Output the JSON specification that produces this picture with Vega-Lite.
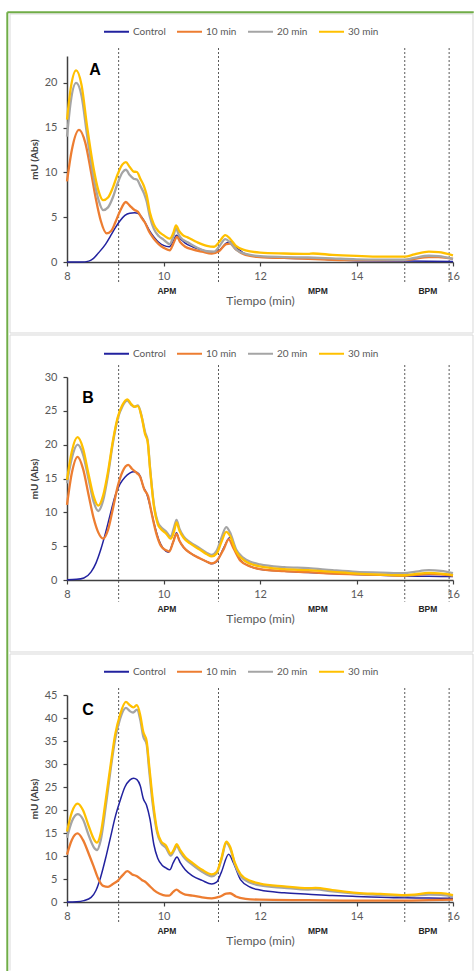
{
  "$schema": "https://vega.github.io/schema/vega-lite/v6.json",
  "background": "white",
  "padding": {"left": 6, "top": 11, "right": 0, "bottom": 0},
  "bounds": "flush",
  "spacing": 115,
  "config": {
    "view": {"stroke": null},
    "font": "Lato",
    "axis": {
      "grid": false,
      "domainColor": "#404040",
      "domainWidth": 1.5,
      "tickColor": "#404040",
      "tickWidth": 1.2,
      "tickSize": 4,
      "labelColor": "#595959",
      "labelFont": "Lato",
      "labelFontSize": 11,
      "labelFlush": false,
      "labelOverlap": false,
      "labelPadding": 4
    },
    "axisY": {"labelPadding": 6, "titleColor": "#404040", "titleFont": "Lato", "titleFontSize": 10, "titleFontWeight": "bold", "titlePadding": 5},
    "axisX": {"titleColor": "#595959", "titleFont": "Lato", "titleFontSize": 12, "titleFontWeight": "normal", "titlePadding": 14},
    "legend": {
      "symbolType": "stroke",
      "symbolSize": 625,
      "symbolStrokeWidth": 2,
      "labelColor": "#595959",
      "labelFont": "Lato",
      "labelFontSize": 10,
      "labelOffset": 3,
      "columnPadding": 7
    }
  },
  "resolve": {"scale": {"x": "independent", "y": "independent", "color": "independent"}, "legend": {"color": "independent"}},
  "datasets": {
    "A": [
      {"s":"Control","t":8.0,"v":0},{"s":"Control","t":8.3,"v":0},{"s":"Control","t":8.45,"v":0.1},{"s":"Control","t":8.55,"v":0.4},{"s":"Control","t":8.65,"v":1.0},{"s":"Control","t":8.8,"v":2.0},{"s":"Control","t":8.9,"v":2.9},{"s":"Control","t":9.0,"v":3.8},{"s":"Control","t":9.1,"v":4.6},{"s":"Control","t":9.2,"v":5.2},{"s":"Control","t":9.3,"v":5.45},{"s":"Control","t":9.4,"v":5.5},{"s":"Control","t":9.48,"v":5.4},{"s":"Control","t":9.55,"v":5.0},{"s":"Control","t":9.62,"v":4.4},{"s":"Control","t":9.7,"v":3.6},{"s":"Control","t":9.8,"v":2.8},{"s":"Control","t":9.9,"v":2.2},{"s":"Control","t":10.0,"v":1.85},{"s":"Control","t":10.12,"v":1.7},{"s":"Control","t":10.2,"v":2.3},{"s":"Control","t":10.27,"v":3.0},{"s":"Control","t":10.35,"v":2.6},{"s":"Control","t":10.45,"v":2.1},{"s":"Control","t":10.6,"v":1.7},{"s":"Control","t":10.8,"v":1.35},{"s":"Control","t":11.0,"v":1.1},{"s":"Control","t":11.15,"v":1.3},{"s":"Control","t":11.3,"v":2.1},{"s":"Control","t":11.4,"v":2.3},{"s":"Control","t":11.5,"v":1.7},{"s":"Control","t":11.7,"v":0.9},{"s":"Control","t":12.0,"v":0.55},{"s":"Control","t":12.5,"v":0.42},{"s":"Control","t":13.0,"v":0.38},{"s":"Control","t":13.1,"v":0.4},{"s":"Control","t":13.5,"v":0.25},{"s":"Control","t":14.0,"v":0.15},{"s":"Control","t":15.0,"v":0.1},{"s":"Control","t":16.0,"v":0.05},
      {"s":"10 min","t":8.0,"v":9.0},{"s":"10 min","t":8.1,"v":12.5},{"s":"10 min","t":8.25,"v":14.75},{"s":"10 min","t":8.38,"v":13.3},{"s":"10 min","t":8.5,"v":10.0},{"s":"10 min","t":8.6,"v":7.0},{"s":"10 min","t":8.7,"v":4.6},{"s":"10 min","t":8.82,"v":3.2},{"s":"10 min","t":8.92,"v":3.5},{"s":"10 min","t":9.0,"v":4.4},{"s":"10 min","t":9.1,"v":5.7},{"s":"10 min","t":9.22,"v":6.7},{"s":"10 min","t":9.3,"v":6.3},{"s":"10 min","t":9.4,"v":5.8},{"s":"10 min","t":9.47,"v":5.6},{"s":"10 min","t":9.55,"v":4.9},{"s":"10 min","t":9.62,"v":4.35},{"s":"10 min","t":9.7,"v":3.4},{"s":"10 min","t":9.8,"v":2.6},{"s":"10 min","t":9.9,"v":2.0},{"s":"10 min","t":10.0,"v":1.6},{"s":"10 min","t":10.13,"v":1.3},{"s":"10 min","t":10.2,"v":2.0},{"s":"10 min","t":10.28,"v":2.8},{"s":"10 min","t":10.35,"v":2.2},{"s":"10 min","t":10.45,"v":1.7},{"s":"10 min","t":10.6,"v":1.4},{"s":"10 min","t":10.8,"v":1.15},{"s":"10 min","t":11.0,"v":0.95},{"s":"10 min","t":11.15,"v":1.2},{"s":"10 min","t":11.3,"v":2.0},{"s":"10 min","t":11.38,"v":2.05},{"s":"10 min","t":11.5,"v":1.4},{"s":"10 min","t":11.7,"v":0.8},{"s":"10 min","t":12.0,"v":0.55},{"s":"10 min","t":12.5,"v":0.45},{"s":"10 min","t":13.0,"v":0.35},{"s":"10 min","t":13.5,"v":0.25},{"s":"10 min","t":14.0,"v":0.2},{"s":"10 min","t":15.0,"v":0.2},{"s":"10 min","t":15.2,"v":0.35},{"s":"10 min","t":15.5,"v":0.55},{"s":"10 min","t":15.7,"v":0.55},{"s":"10 min","t":16.0,"v":0.35},
      {"s":"20 min","t":8.0,"v":14.0},{"s":"20 min","t":8.08,"v":18.0},{"s":"20 min","t":8.19,"v":20.0},{"s":"20 min","t":8.3,"v":18.6},{"s":"20 min","t":8.42,"v":14.0},{"s":"20 min","t":8.55,"v":9.5},{"s":"20 min","t":8.65,"v":7.0},{"s":"20 min","t":8.75,"v":5.8},{"s":"20 min","t":8.85,"v":6.1},{"s":"20 min","t":8.95,"v":7.2},{"s":"20 min","t":9.05,"v":8.8},{"s":"20 min","t":9.15,"v":10.0},{"s":"20 min","t":9.22,"v":10.3},{"s":"20 min","t":9.3,"v":9.7},{"s":"20 min","t":9.38,"v":9.3},{"s":"20 min","t":9.45,"v":9.2},{"s":"20 min","t":9.52,"v":8.5},{"s":"20 min","t":9.6,"v":7.6},{"s":"20 min","t":9.65,"v":6.8},{"s":"20 min","t":9.72,"v":5.0},{"s":"20 min","t":9.8,"v":3.7},{"s":"20 min","t":9.9,"v":2.9},{"s":"20 min","t":10.0,"v":2.5},{"s":"20 min","t":10.13,"v":2.0},{"s":"20 min","t":10.2,"v":2.8},{"s":"20 min","t":10.26,"v":3.75},{"s":"20 min","t":10.32,"v":3.0},{"s":"20 min","t":10.4,"v":2.5},{"s":"20 min","t":10.5,"v":2.2},{"s":"20 min","t":10.7,"v":1.6},{"s":"20 min","t":10.9,"v":1.2},{"s":"20 min","t":11.05,"v":1.15},{"s":"20 min","t":11.15,"v":1.7},{"s":"20 min","t":11.28,"v":2.55},{"s":"20 min","t":11.38,"v":2.2},{"s":"20 min","t":11.5,"v":1.4},{"s":"20 min","t":11.7,"v":0.9},{"s":"20 min","t":12.0,"v":0.65},{"s":"20 min","t":12.5,"v":0.55},{"s":"20 min","t":13.0,"v":0.5},{"s":"20 min","t":13.5,"v":0.4},{"s":"20 min","t":14.0,"v":0.3},{"s":"20 min","t":14.5,"v":0.27},{"s":"20 min","t":15.0,"v":0.25},{"s":"20 min","t":15.2,"v":0.45},{"s":"20 min","t":15.5,"v":0.7},{"s":"20 min","t":15.7,"v":0.65},{"s":"20 min","t":16.0,"v":0.35},
      {"s":"30 min","t":8.0,"v":15.9},{"s":"30 min","t":8.08,"v":19.5},{"s":"30 min","t":8.19,"v":21.4},{"s":"30 min","t":8.3,"v":19.8},{"s":"30 min","t":8.42,"v":15.0},{"s":"30 min","t":8.55,"v":10.5},{"s":"30 min","t":8.65,"v":8.0},{"s":"30 min","t":8.75,"v":6.9},{"s":"30 min","t":8.85,"v":7.2},{"s":"30 min","t":8.95,"v":8.3},{"s":"30 min","t":9.05,"v":9.8},{"s":"30 min","t":9.15,"v":10.9},{"s":"30 min","t":9.22,"v":11.15},{"s":"30 min","t":9.3,"v":10.6},{"s":"30 min","t":9.38,"v":10.1},{"s":"30 min","t":9.45,"v":10.05},{"s":"30 min","t":9.52,"v":9.3},{"s":"30 min","t":9.6,"v":8.4},{"s":"30 min","t":9.65,"v":7.5},{"s":"30 min","t":9.72,"v":5.5},{"s":"30 min","t":9.8,"v":4.2},{"s":"30 min","t":9.9,"v":3.4},{"s":"30 min","t":10.0,"v":3.0},{"s":"30 min","t":10.13,"v":2.6},{"s":"30 min","t":10.2,"v":3.2},{"s":"30 min","t":10.26,"v":4.1},{"s":"30 min","t":10.32,"v":3.5},{"s":"30 min","t":10.4,"v":3.0},{"s":"30 min","t":10.5,"v":2.75},{"s":"30 min","t":10.7,"v":2.2},{"s":"30 min","t":10.9,"v":1.8},{"s":"30 min","t":11.05,"v":1.7},{"s":"30 min","t":11.15,"v":2.2},{"s":"30 min","t":11.28,"v":3.0},{"s":"30 min","t":11.38,"v":2.6},{"s":"30 min","t":11.5,"v":1.8},{"s":"30 min","t":11.7,"v":1.3},{"s":"30 min","t":12.0,"v":1.05},{"s":"30 min","t":12.5,"v":0.95},{"s":"30 min","t":13.0,"v":0.9},{"s":"30 min","t":13.1,"v":0.95},{"s":"30 min","t":13.5,"v":0.8},{"s":"30 min","t":14.0,"v":0.68},{"s":"30 min","t":14.5,"v":0.6},{"s":"30 min","t":15.0,"v":0.6},{"s":"30 min","t":15.2,"v":0.85},{"s":"30 min","t":15.5,"v":1.15},{"s":"30 min","t":15.7,"v":1.1},{"s":"30 min","t":16.0,"v":0.75}
    ],
    "B": [
      {"s":"Control","t":8.0,"v":0.05},{"s":"Control","t":8.2,"v":0.1},{"s":"Control","t":8.35,"v":0.3},{"s":"Control","t":8.5,"v":1.2},{"s":"Control","t":8.6,"v":2.5},{"s":"Control","t":8.7,"v":4.5},{"s":"Control","t":8.8,"v":7.0},{"s":"Control","t":8.9,"v":9.8},{"s":"Control","t":9.0,"v":12.5},{"s":"Control","t":9.1,"v":14.2},{"s":"Control","t":9.2,"v":15.2},{"s":"Control","t":9.3,"v":15.8},{"s":"Control","t":9.38,"v":16.0},{"s":"Control","t":9.45,"v":15.9},{"s":"Control","t":9.52,"v":15.3},{"s":"Control","t":9.58,"v":13.8},{"s":"Control","t":9.65,"v":12.8},{"s":"Control","t":9.72,"v":11.0},{"s":"Control","t":9.8,"v":8.5},{"s":"Control","t":9.9,"v":6.0},{"s":"Control","t":10.0,"v":4.6},{"s":"Control","t":10.1,"v":4.1},{"s":"Control","t":10.2,"v":5.6},{"s":"Control","t":10.27,"v":7.0},{"s":"Control","t":10.33,"v":5.8},{"s":"Control","t":10.42,"v":4.8},{"s":"Control","t":10.55,"v":4.0},{"s":"Control","t":10.75,"v":3.2},{"s":"Control","t":10.9,"v":2.7},{"s":"Control","t":11.0,"v":2.4},{"s":"Control","t":11.1,"v":2.7},{"s":"Control","t":11.25,"v":4.8},{"s":"Control","t":11.38,"v":6.3},{"s":"Control","t":11.48,"v":4.8},{"s":"Control","t":11.6,"v":2.9},{"s":"Control","t":11.8,"v":2.0},{"s":"Control","t":12.0,"v":1.6},{"s":"Control","t":12.5,"v":1.3},{"s":"Control","t":13.0,"v":1.1},{"s":"Control","t":13.5,"v":0.95},{"s":"Control","t":14.0,"v":0.8},{"s":"Control","t":14.5,"v":0.7},{"s":"Control","t":15.0,"v":0.6},{"s":"Control","t":15.5,"v":0.55},{"s":"Control","t":16.0,"v":0.5},
      {"s":"10 min","t":8.0,"v":11.1},{"s":"10 min","t":8.1,"v":15.8},{"s":"10 min","t":8.22,"v":18.2},{"s":"10 min","t":8.33,"v":16.5},{"s":"10 min","t":8.45,"v":12.5},{"s":"10 min","t":8.55,"v":9.2},{"s":"10 min","t":8.65,"v":7.0},{"s":"10 min","t":8.75,"v":6.1},{"s":"10 min","t":8.85,"v":7.4},{"s":"10 min","t":8.95,"v":10.5},{"s":"10 min","t":9.05,"v":13.8},{"s":"10 min","t":9.15,"v":16.0},{"s":"10 min","t":9.27,"v":17.0},{"s":"10 min","t":9.35,"v":16.4},{"s":"10 min","t":9.45,"v":15.8},{"s":"10 min","t":9.52,"v":15.2},{"s":"10 min","t":9.6,"v":13.4},{"s":"10 min","t":9.68,"v":12.4},{"s":"10 min","t":9.75,"v":10.0},{"s":"10 min","t":9.85,"v":6.9},{"s":"10 min","t":9.95,"v":5.0},{"s":"10 min","t":10.05,"v":4.4},{"s":"10 min","t":10.12,"v":4.2},{"s":"10 min","t":10.2,"v":5.6},{"s":"10 min","t":10.27,"v":6.8},{"s":"10 min","t":10.33,"v":5.8},{"s":"10 min","t":10.42,"v":4.8},{"s":"10 min","t":10.55,"v":4.0},{"s":"10 min","t":10.75,"v":3.2},{"s":"10 min","t":10.9,"v":2.7},{"s":"10 min","t":11.0,"v":2.45},{"s":"10 min","t":11.1,"v":2.8},{"s":"10 min","t":11.25,"v":4.6},{"s":"10 min","t":11.35,"v":6.0},{"s":"10 min","t":11.45,"v":4.7},{"s":"10 min","t":11.6,"v":2.8},{"s":"10 min","t":11.8,"v":2.0},{"s":"10 min","t":12.0,"v":1.6},{"s":"10 min","t":12.5,"v":1.3},{"s":"10 min","t":13.0,"v":1.15},{"s":"10 min","t":13.5,"v":0.95},{"s":"10 min","t":14.0,"v":0.85},{"s":"10 min","t":14.5,"v":0.75},{"s":"10 min","t":15.0,"v":0.65},{"s":"10 min","t":15.2,"v":0.75},{"s":"10 min","t":15.5,"v":0.9},{"s":"10 min","t":15.75,"v":0.85},{"s":"10 min","t":16.0,"v":0.65},
      {"s":"20 min","t":8.0,"v":14.3},{"s":"20 min","t":8.1,"v":18.0},{"s":"20 min","t":8.22,"v":20.0},{"s":"20 min","t":8.33,"v":18.6},{"s":"20 min","t":8.45,"v":14.8},{"s":"20 min","t":8.55,"v":11.6},{"s":"20 min","t":8.65,"v":10.2},{"s":"20 min","t":8.75,"v":11.8},{"s":"20 min","t":8.85,"v":15.5},{"s":"20 min","t":8.95,"v":20.2},{"s":"20 min","t":9.05,"v":23.8},{"s":"20 min","t":9.15,"v":25.7},{"s":"20 min","t":9.25,"v":26.5},{"s":"20 min","t":9.33,"v":25.9},{"s":"20 min","t":9.4,"v":25.6},{"s":"20 min","t":9.47,"v":25.8},{"s":"20 min","t":9.55,"v":24.1},{"s":"20 min","t":9.62,"v":21.8},{"s":"20 min","t":9.67,"v":20.7},{"s":"20 min","t":9.72,"v":16.7},{"s":"20 min","t":9.8,"v":11.2},{"s":"20 min","t":9.88,"v":8.6},{"s":"20 min","t":9.95,"v":7.8},{"s":"20 min","t":10.05,"v":7.2},{"s":"20 min","t":10.15,"v":6.4},{"s":"20 min","t":10.22,"v":7.8},{"s":"20 min","t":10.27,"v":8.9},{"s":"20 min","t":10.33,"v":7.6},{"s":"20 min","t":10.42,"v":6.4},{"s":"20 min","t":10.55,"v":5.6},{"s":"20 min","t":10.75,"v":4.7},{"s":"20 min","t":10.9,"v":4.0},{"s":"20 min","t":11.0,"v":3.7},{"s":"20 min","t":11.1,"v":4.3},{"s":"20 min","t":11.2,"v":6.2},{"s":"20 min","t":11.3,"v":7.8},{"s":"20 min","t":11.38,"v":7.0},{"s":"20 min","t":11.5,"v":4.6},{"s":"20 min","t":11.65,"v":3.3},{"s":"20 min","t":11.8,"v":2.7},{"s":"20 min","t":12.0,"v":2.3},{"s":"20 min","t":12.5,"v":1.9},{"s":"20 min","t":13.0,"v":1.75},{"s":"20 min","t":13.5,"v":1.45},{"s":"20 min","t":14.0,"v":1.2},{"s":"20 min","t":14.5,"v":1.1},{"s":"20 min","t":15.0,"v":1.0},{"s":"20 min","t":15.2,"v":1.2},{"s":"20 min","t":15.5,"v":1.45},{"s":"20 min","t":15.75,"v":1.35},{"s":"20 min","t":16.0,"v":1.0},
      {"s":"30 min","t":8.0,"v":14.8},{"s":"30 min","t":8.1,"v":19.0},{"s":"30 min","t":8.22,"v":21.1},{"s":"30 min","t":8.33,"v":19.5},{"s":"30 min","t":8.45,"v":15.5},{"s":"30 min","t":8.55,"v":12.4},{"s":"30 min","t":8.65,"v":11.0},{"s":"30 min","t":8.75,"v":12.5},{"s":"30 min","t":8.85,"v":16.0},{"s":"30 min","t":8.95,"v":20.5},{"s":"30 min","t":9.05,"v":24.0},{"s":"30 min","t":9.15,"v":25.9},{"s":"30 min","t":9.25,"v":26.7},{"s":"30 min","t":9.33,"v":26.0},{"s":"30 min","t":9.4,"v":25.6},{"s":"30 min","t":9.47,"v":25.7},{"s":"30 min","t":9.55,"v":24.0},{"s":"30 min","t":9.62,"v":21.5},{"s":"30 min","t":9.67,"v":20.5},{"s":"30 min","t":9.72,"v":16.5},{"s":"30 min","t":9.8,"v":11.0},{"s":"30 min","t":9.88,"v":8.3},{"s":"30 min","t":9.95,"v":7.5},{"s":"30 min","t":10.05,"v":6.9},{"s":"30 min","t":10.15,"v":6.1},{"s":"30 min","t":10.22,"v":7.2},{"s":"30 min","t":10.27,"v":8.5},{"s":"30 min","t":10.33,"v":7.3},{"s":"30 min","t":10.42,"v":6.2},{"s":"30 min","t":10.55,"v":5.4},{"s":"30 min","t":10.75,"v":4.5},{"s":"30 min","t":10.9,"v":3.8},{"s":"30 min","t":11.0,"v":3.5},{"s":"30 min","t":11.1,"v":3.9},{"s":"30 min","t":11.2,"v":5.6},{"s":"30 min","t":11.3,"v":7.1},{"s":"30 min","t":11.38,"v":6.5},{"s":"30 min","t":11.5,"v":4.3},{"s":"30 min","t":11.65,"v":3.0},{"s":"30 min","t":11.8,"v":2.4},{"s":"30 min","t":12.0,"v":2.0},{"s":"30 min","t":12.5,"v":1.6},{"s":"30 min","t":13.0,"v":1.45},{"s":"30 min","t":13.5,"v":1.2},{"s":"30 min","t":14.0,"v":0.95},{"s":"30 min","t":14.5,"v":0.8},{"s":"30 min","t":15.0,"v":0.7},{"s":"30 min","t":15.2,"v":0.85},{"s":"30 min","t":15.5,"v":1.05},{"s":"30 min","t":15.75,"v":0.95},{"s":"30 min","t":16.0,"v":0.7}
    ],
    "C": [
      {"s":"Control","t":8.0,"v":0},{"s":"Control","t":8.2,"v":0.05},{"s":"Control","t":8.35,"v":0.3},{"s":"Control","t":8.5,"v":1.0},{"s":"Control","t":8.6,"v":2.5},{"s":"Control","t":8.7,"v":5.5},{"s":"Control","t":8.8,"v":9.5},{"s":"Control","t":8.9,"v":14.0},{"s":"Control","t":9.0,"v":18.5},{"s":"Control","t":9.1,"v":22.0},{"s":"Control","t":9.2,"v":25.0},{"s":"Control","t":9.3,"v":26.5},{"s":"Control","t":9.38,"v":26.9},{"s":"Control","t":9.45,"v":26.6},{"s":"Control","t":9.52,"v":25.2},{"s":"Control","t":9.58,"v":22.5},{"s":"Control","t":9.65,"v":21.0},{"s":"Control","t":9.72,"v":18.0},{"s":"Control","t":9.8,"v":12.5},{"s":"Control","t":9.88,"v":9.5},{"s":"Control","t":9.97,"v":8.0},{"s":"Control","t":10.05,"v":7.4},{"s":"Control","t":10.13,"v":7.0},{"s":"Control","t":10.2,"v":8.5},{"s":"Control","t":10.28,"v":9.8},{"s":"Control","t":10.35,"v":8.5},{"s":"Control","t":10.45,"v":7.0},{"s":"Control","t":10.6,"v":5.7},{"s":"Control","t":10.8,"v":4.7},{"s":"Control","t":11.0,"v":3.9},{"s":"Control","t":11.1,"v":4.3},{"s":"Control","t":11.2,"v":6.5},{"s":"Control","t":11.35,"v":10.4},{"s":"Control","t":11.45,"v":8.5},{"s":"Control","t":11.6,"v":4.8},{"s":"Control","t":11.8,"v":3.2},{"s":"Control","t":12.0,"v":2.6},{"s":"Control","t":12.5,"v":2.0},{"s":"Control","t":13.0,"v":1.7},{"s":"Control","t":13.5,"v":1.4},{"s":"Control","t":14.0,"v":1.2},{"s":"Control","t":14.5,"v":1.05},{"s":"Control","t":15.0,"v":0.9},{"s":"Control","t":15.5,"v":0.85},{"s":"Control","t":16.0,"v":0.8},
      {"s":"10 min","t":8.0,"v":10.3},{"s":"10 min","t":8.1,"v":13.5},{"s":"10 min","t":8.22,"v":14.9},{"s":"10 min","t":8.33,"v":13.5},{"s":"10 min","t":8.45,"v":10.5},{"s":"10 min","t":8.55,"v":7.8},{"s":"10 min","t":8.65,"v":5.0},{"s":"10 min","t":8.75,"v":3.5},{"s":"10 min","t":8.85,"v":3.3},{"s":"10 min","t":8.95,"v":3.9},{"s":"10 min","t":9.05,"v":4.6},{"s":"10 min","t":9.15,"v":5.8},{"s":"10 min","t":9.25,"v":6.7},{"s":"10 min","t":9.35,"v":6.0},{"s":"10 min","t":9.45,"v":5.6},{"s":"10 min","t":9.55,"v":4.8},{"s":"10 min","t":9.62,"v":4.4},{"s":"10 min","t":9.7,"v":3.6},{"s":"10 min","t":9.8,"v":2.6},{"s":"10 min","t":9.92,"v":1.8},{"s":"10 min","t":10.05,"v":1.4},{"s":"10 min","t":10.12,"v":1.4},{"s":"10 min","t":10.2,"v":2.2},{"s":"10 min","t":10.27,"v":2.7},{"s":"10 min","t":10.35,"v":2.1},{"s":"10 min","t":10.45,"v":1.6},{"s":"10 min","t":10.6,"v":1.4},{"s":"10 min","t":10.8,"v":1.0},{"s":"10 min","t":11.0,"v":0.8},{"s":"10 min","t":11.15,"v":1.1},{"s":"10 min","t":11.3,"v":1.8},{"s":"10 min","t":11.38,"v":1.9},{"s":"10 min","t":11.5,"v":1.2},{"s":"10 min","t":11.7,"v":0.7},{"s":"10 min","t":12.0,"v":0.5},{"s":"10 min","t":13.0,"v":0.4},{"s":"10 min","t":14.0,"v":0.3},{"s":"10 min","t":15.0,"v":0.3},{"s":"10 min","t":15.5,"v":0.4},{"s":"10 min","t":16.0,"v":0.5},
      {"s":"20 min","t":8.0,"v":14.0},{"s":"20 min","t":8.1,"v":17.5},{"s":"20 min","t":8.22,"v":19.1},{"s":"20 min","t":8.33,"v":18.0},{"s":"20 min","t":8.45,"v":14.5},{"s":"20 min","t":8.55,"v":12.0},{"s":"20 min","t":8.62,"v":11.3},{"s":"20 min","t":8.7,"v":13.5},{"s":"20 min","t":8.8,"v":20.5},{"s":"20 min","t":8.9,"v":28.5},{"s":"20 min","t":9.0,"v":35.5},{"s":"20 min","t":9.1,"v":39.8},{"s":"20 min","t":9.22,"v":42.2},{"s":"20 min","t":9.3,"v":41.5},{"s":"20 min","t":9.37,"v":41.2},{"s":"20 min","t":9.45,"v":41.8},{"s":"20 min","t":9.52,"v":39.5},{"s":"20 min","t":9.58,"v":36.0},{"s":"20 min","t":9.65,"v":34.3},{"s":"20 min","t":9.7,"v":29.0},{"s":"20 min","t":9.78,"v":21.0},{"s":"20 min","t":9.87,"v":15.0},{"s":"20 min","t":9.95,"v":12.8},{"s":"20 min","t":10.05,"v":11.8},{"s":"20 min","t":10.15,"v":10.1},{"s":"20 min","t":10.22,"v":11.2},{"s":"20 min","t":10.27,"v":12.2},{"s":"20 min","t":10.35,"v":10.8},{"s":"20 min","t":10.45,"v":9.4},{"s":"20 min","t":10.6,"v":8.1},{"s":"20 min","t":10.8,"v":6.6},{"s":"20 min","t":11.0,"v":5.6},{"s":"20 min","t":11.1,"v":6.2},{"s":"20 min","t":11.2,"v":9.2},{"s":"20 min","t":11.3,"v":12.8},{"s":"20 min","t":11.38,"v":11.7},{"s":"20 min","t":11.48,"v":8.2},{"s":"20 min","t":11.6,"v":5.6},{"s":"20 min","t":11.8,"v":4.2},{"s":"20 min","t":12.0,"v":3.6},{"s":"20 min","t":12.5,"v":3.1},{"s":"20 min","t":13.0,"v":2.7},{"s":"20 min","t":13.15,"v":2.75},{"s":"20 min","t":13.5,"v":2.3},{"s":"20 min","t":14.0,"v":1.8},{"s":"20 min","t":14.5,"v":1.5},{"s":"20 min","t":15.0,"v":1.3},{"s":"20 min","t":15.2,"v":1.4},{"s":"20 min","t":15.5,"v":1.6},{"s":"20 min","t":15.75,"v":1.55},{"s":"20 min","t":16.0,"v":1.2},
      {"s":"30 min","t":8.0,"v":15.3},{"s":"30 min","t":8.1,"v":19.5},{"s":"30 min","t":8.22,"v":21.4},{"s":"30 min","t":8.33,"v":20.0},{"s":"30 min","t":8.45,"v":16.5},{"s":"30 min","t":8.55,"v":13.8},{"s":"30 min","t":8.62,"v":12.9},{"s":"30 min","t":8.7,"v":15.0},{"s":"30 min","t":8.8,"v":22.0},{"s":"30 min","t":8.9,"v":29.5},{"s":"30 min","t":9.0,"v":36.5},{"s":"30 min","t":9.1,"v":40.7},{"s":"30 min","t":9.22,"v":43.5},{"s":"30 min","t":9.3,"v":42.8},{"s":"30 min","t":9.37,"v":42.3},{"s":"30 min","t":9.45,"v":42.8},{"s":"30 min","t":9.52,"v":40.5},{"s":"30 min","t":9.58,"v":37.0},{"s":"30 min","t":9.65,"v":35.0},{"s":"30 min","t":9.7,"v":30.0},{"s":"30 min","t":9.78,"v":22.0},{"s":"30 min","t":9.87,"v":15.5},{"s":"30 min","t":9.95,"v":13.2},{"s":"30 min","t":10.05,"v":12.3},{"s":"30 min","t":10.15,"v":10.5},{"s":"30 min","t":10.22,"v":11.5},{"s":"30 min","t":10.27,"v":12.6},{"s":"30 min","t":10.35,"v":11.2},{"s":"30 min","t":10.45,"v":9.8},{"s":"30 min","t":10.6,"v":8.5},{"s":"30 min","t":10.8,"v":7.0},{"s":"30 min","t":11.0,"v":6.0},{"s":"30 min","t":11.1,"v":6.5},{"s":"30 min","t":11.2,"v":9.5},{"s":"30 min","t":11.3,"v":13.1},{"s":"30 min","t":11.38,"v":12.0},{"s":"30 min","t":11.48,"v":8.5},{"s":"30 min","t":11.6,"v":6.0},{"s":"30 min","t":11.8,"v":4.6},{"s":"30 min","t":12.0,"v":4.0},{"s":"30 min","t":12.5,"v":3.4},{"s":"30 min","t":13.0,"v":3.0},{"s":"30 min","t":13.15,"v":3.05},{"s":"30 min","t":13.5,"v":2.6},{"s":"30 min","t":14.0,"v":2.0},{"s":"30 min","t":14.5,"v":1.75},{"s":"30 min","t":15.0,"v":1.5},{"s":"30 min","t":15.2,"v":1.6},{"s":"30 min","t":15.5,"v":2.0},{"s":"30 min","t":15.75,"v":1.95},{"s":"30 min","t":16.0,"v":1.5}
    ],
    "bounds": [{"t":9.07},{"t":11.14},{"t":15.0},{"t":15.92}],
    "regions": [{"label":"APM","t":10.07},{"label":"MPM","t":13.2},{"label":"BPM","t":15.48}]
  },
  "vconcat": [
    {
      "width": 386,
      "height": 206,
      "layer": [
        {"data": {"values": [{}]}, "mark": {"type": "rect", "fill": "transparent", "stroke": "#D9D9D9", "strokeWidth": 1},
         "encoding": {"x": {"datum": 6.8187, "axis": {"values": [8, 10, 12, 14, 16], "title": "Tiempo (min)"}}, "x2": {"datum": 16.4145}, "y": {"datum": 27.689, "axis": {"values": [0, 5, 10, 15, 20], "title": "mU (Abs)"}}, "y2": {"datum": -7.927}}},
        {"data": {"values": [{}]}, "mark": {"type": "rule", "color": "#70AD47", "strokeWidth": 2},
         "encoding": {"x": {"datum": 6.7627, "axis": {"values": [8, 10, 12, 14, 16], "title": "Tiempo (min)"}}, "x2": {"datum": 16.43}, "y": {"datum": 27.879, "axis": {"values": [0, 5, 10, 15, 20], "title": "mU (Abs)"}}}},
        {"data": {"values": [{}]}, "mark": {"type": "rule", "color": "#70AD47", "strokeWidth": 2},
         "encoding": {"x": {"datum": 6.7627, "axis": {"values": [8, 10, 12, 14, 16], "title": "Tiempo (min)"}}, "y": {"datum": 27.879, "axis": {"values": [0, 5, 10, 15, 20], "title": "mU (Abs)"}}, "y2": {"datum": -79.16}}},
        {"data": {"name": "bounds"}, "mark": {"type": "rule", "color": "#595959", "strokeWidth": 1, "strokeDash": [2, 2]},
         "encoding": {"x": {"field": "t", "type": "quantitative", "axis": {"values": [8, 10, 12, 14, 16], "title": "Tiempo (min)"}}, "y": {"datum": 23.89, "axis": {"values": [0, 5, 10, 15, 20], "title": "mU (Abs)"}}, "y2": {"datum": -2.34}}},
        {"data": {"name": "A"}, "transform": [{"filter": "datum.s === 'Control'"}], "mark": {"type": "line", "interpolate": "monotone", "strokeWidth": 1.5},
         "encoding": {
           "x": {"field": "t", "type": "quantitative", "scale": {"domain": [8, 16], "nice": false, "zero": false}, "axis": {"values": [8, 10, 12, 14, 16], "title": "Tiempo (min)"}},
           "y": {"field": "v", "type": "quantitative", "scale": {"domain": [0, 23], "nice": false}, "axis": {"values": [0, 5, 10, 15, 20], "title": "mU (Abs)"}},
           "color": {"field": "s", "type": "nominal", "scale": {"domain": ["Control", "10 min", "20 min", "30 min"], "range": ["#22229F", "#ED7D31", "#A5A5A5", "#FFC000"]},
             "legend": {"orient": "none", "legendX": 36, "legendY": -38, "direction": "horizontal", "title": null}}
         }},
        {"data": {"name": "A"}, "transform": [{"filter": "datum.s !== 'Control'"}], "mark": {"type": "line", "interpolate": "monotone", "strokeWidth": 2.3},
         "encoding": {
           "x": {"field": "t", "type": "quantitative", "axis": {"values": [8, 10, 12, 14, 16], "title": "Tiempo (min)"}},
           "y": {"field": "v", "type": "quantitative", "axis": {"values": [0, 5, 10, 15, 20], "title": "mU (Abs)"}},
           "color": {"field": "s", "type": "nominal"}
         }},
        {"data": {"name": "regions"}, "mark": {"type": "text", "font": "Liberation Sans", "fontWeight": "bold", "fontSize": 8.5, "color": "#262626", "baseline": "middle"},
         "encoding": {"x": {"field": "t", "type": "quantitative", "axis": {"values": [8, 10, 12, 14, 16], "title": "Tiempo (min)"}}, "y": {"datum": -3.24, "axis": {"values": [0, 5, 10, 15, 20], "title": "mU (Abs)"}}, "text": {"field": "label"}}},
        {"data": {"values": [{"label": "A"}]}, "mark": {"type": "text", "font": "Liberation Sans", "fontWeight": "bold", "fontSize": 16, "color": "#000000", "baseline": "middle"},
         "encoding": {"x": {"datum": 8.58, "axis": {"values": [8, 10, 12, 14, 16], "title": "Tiempo (min)"}}, "y": {"datum": 21.44, "axis": {"values": [0, 5, 10, 15, 20], "title": "mU (Abs)"}}, "text": {"field": "label"}}}
      ]
    },
    {
      "width": 386,
      "height": 203,
      "layer": [
        {"data": {"values": [{}]}, "mark": {"type": "rect", "fill": "transparent", "stroke": "#D9D9D9", "strokeWidth": 1},
         "encoding": {"x": {"datum": 6.8187, "axis": {"values": [8, 10, 12, 14, 16], "title": "Tiempo (min)"}}, "x2": {"datum": 16.4145}, "y": {"datum": 36.207, "axis": {"values": [0, 5, 10, 15, 20, 25, 30], "title": "mU (Abs)"}}, "y2": {"datum": -10.64}}},
        {"data": {"name": "bounds"}, "mark": {"type": "rule", "color": "#595959", "strokeWidth": 1, "strokeDash": [2, 2]},
         "encoding": {"x": {"field": "t", "type": "quantitative", "axis": {"values": [8, 10, 12, 14, 16], "title": "Tiempo (min)"}}, "y": {"datum": 31.77, "axis": {"values": [0, 5, 10, 15, 20, 25, 30], "title": "mU (Abs)"}}, "y2": {"datum": -3.2}}},
        {"data": {"name": "B"}, "transform": [{"filter": "datum.s === 'Control'"}], "mark": {"type": "line", "interpolate": "monotone", "strokeWidth": 1.5},
         "encoding": {
           "x": {"field": "t", "type": "quantitative", "scale": {"domain": [8, 16], "nice": false, "zero": false}, "axis": {"values": [8, 10, 12, 14, 16], "title": "Tiempo (min)"}},
           "y": {"field": "v", "type": "quantitative", "scale": {"domain": [0, 30], "nice": false}, "axis": {"values": [0, 5, 10, 15, 20, 25, 30], "title": "mU (Abs)"}},
           "color": {"field": "s", "type": "nominal", "scale": {"domain": ["Control", "10 min", "20 min", "30 min"], "range": ["#22229F", "#ED7D31", "#A5A5A5", "#FFC000"]},
             "legend": {"orient": "none", "legendX": 36, "legendY": -37, "direction": "horizontal", "title": null}}
         }},
        {"data": {"name": "B"}, "transform": [{"filter": "datum.s !== 'Control'"}], "mark": {"type": "line", "interpolate": "monotone", "strokeWidth": 2.3},
         "encoding": {
           "x": {"field": "t", "type": "quantitative", "axis": {"values": [8, 10, 12, 14, 16], "title": "Tiempo (min)"}},
           "y": {"field": "v", "type": "quantitative", "axis": {"values": [0, 5, 10, 15, 20, 25, 30], "title": "mU (Abs)"}},
           "color": {"field": "s", "type": "nominal"}
         }},
        {"data": {"name": "regions"}, "mark": {"type": "text", "font": "Liberation Sans", "fontWeight": "bold", "fontSize": 8.5, "color": "#262626", "baseline": "middle"},
         "encoding": {"x": {"field": "t", "type": "quantitative", "axis": {"values": [8, 10, 12, 14, 16], "title": "Tiempo (min)"}}, "y": {"datum": -4.24, "axis": {"values": [0, 5, 10, 15, 20, 25, 30], "title": "mU (Abs)"}}, "text": {"field": "label"}}},
        {"data": {"values": [{"label": "B"}]}, "mark": {"type": "text", "font": "Liberation Sans", "fontWeight": "bold", "fontSize": 16, "color": "#000000", "baseline": "middle"},
         "encoding": {"x": {"datum": 8.435, "axis": {"values": [8, 10, 12, 14, 16], "title": "Tiempo (min)"}}, "y": {"datum": 26.9, "axis": {"values": [0, 5, 10, 15, 20, 25, 30], "title": "mU (Abs)"}}, "text": {"field": "label"}}}
      ]
    },
    {
      "width": 386,
      "height": 207,
      "layer": [
        {"data": {"values": [{}]}, "mark": {"type": "rule", "color": "#D9D9D9", "strokeWidth": 1},
         "encoding": {"x": {"datum": 6.8187, "axis": {"values": [8, 10, 12, 14, 16], "title": "Tiempo (min)"}}, "x2": {"datum": 16.4145}, "y": {"datum": 53.913, "axis": {"values": [0, 5, 10, 15, 20, 25, 30, 35, 40, 45], "title": "mU (Abs)"}}}},
        {"data": {"values": [{}]}, "mark": {"type": "rule", "color": "#D9D9D9", "strokeWidth": 1},
         "encoding": {"x": {"datum": 6.8187, "axis": {"values": [8, 10, 12, 14, 16], "title": "Tiempo (min)"}}, "y": {"datum": 53.913, "axis": {"values": [0, 5, 10, 15, 20, 25, 30, 35, 40, 45], "title": "mU (Abs)"}}, "y2": {"datum": -14.9}}},
        {"data": {"values": [{}]}, "mark": {"type": "rule", "color": "#D9D9D9", "strokeWidth": 1},
         "encoding": {"x": {"datum": 16.4145, "axis": {"values": [8, 10, 12, 14, 16], "title": "Tiempo (min)"}}, "y": {"datum": 53.913, "axis": {"values": [0, 5, 10, 15, 20, 25, 30, 35, 40, 45], "title": "mU (Abs)"}}, "y2": {"datum": -14.9}}},
        {"data": {"name": "bounds"}, "mark": {"type": "rule", "color": "#595959", "strokeWidth": 1, "strokeDash": [2, 2]},
         "encoding": {"x": {"field": "t", "type": "quantitative", "axis": {"values": [8, 10, 12, 14, 16], "title": "Tiempo (min)"}}, "y": {"datum": 46.52, "axis": {"values": [0, 5, 10, 15, 20, 25, 30, 35, 40, 45], "title": "mU (Abs)"}}, "y2": {"datum": -4.78}}},
        {"data": {"name": "C"}, "transform": [{"filter": "datum.s === 'Control'"}], "mark": {"type": "line", "interpolate": "monotone", "strokeWidth": 1.5},
         "encoding": {
           "x": {"field": "t", "type": "quantitative", "scale": {"domain": [8, 16], "nice": false, "zero": false}, "axis": {"values": [8, 10, 12, 14, 16], "title": "Tiempo (min)"}},
           "y": {"field": "v", "type": "quantitative", "scale": {"domain": [0, 45], "nice": false}, "axis": {"values": [0, 5, 10, 15, 20, 25, 30, 35, 40, 45], "title": "mU (Abs)"}},
           "color": {"field": "s", "type": "nominal", "scale": {"domain": ["Control", "10 min", "20 min", "30 min"], "range": ["#22229F", "#ED7D31", "#A5A5A5", "#FFC000"]},
             "legend": {"orient": "none", "legendX": 36, "legendY": -37, "direction": "horizontal", "title": null}}
         }},
        {"data": {"name": "C"}, "transform": [{"filter": "datum.s !== 'Control'"}], "mark": {"type": "line", "interpolate": "monotone", "strokeWidth": 2.3},
         "encoding": {
           "x": {"field": "t", "type": "quantitative", "axis": {"values": [8, 10, 12, 14, 16], "title": "Tiempo (min)"}},
           "y": {"field": "v", "type": "quantitative", "axis": {"values": [0, 5, 10, 15, 20, 25, 30, 35, 40, 45], "title": "mU (Abs)"}},
           "color": {"field": "s", "type": "nominal"}
         }},
        {"data": {"name": "regions"}, "mark": {"type": "text", "font": "Liberation Sans", "fontWeight": "bold", "fontSize": 8.5, "color": "#262626", "baseline": "middle"},
         "encoding": {"x": {"field": "t", "type": "quantitative", "axis": {"values": [8, 10, 12, 14, 16], "title": "Tiempo (min)"}}, "y": {"datum": -6.3, "axis": {"values": [0, 5, 10, 15, 20, 25, 30, 35, 40, 45], "title": "mU (Abs)"}}, "text": {"field": "label"}}},
        {"data": {"values": [{"label": "C"}]}, "mark": {"type": "text", "font": "Liberation Sans", "fontWeight": "bold", "fontSize": 16, "color": "#000000", "baseline": "middle"},
         "encoding": {"x": {"datum": 8.435, "axis": {"values": [8, 10, 12, 14, 16], "title": "Tiempo (min)"}}, "y": {"datum": 41.74, "axis": {"values": [0, 5, 10, 15, 20, 25, 30, 35, 40, 45], "title": "mU (Abs)"}}, "text": {"field": "label"}}}
      ]
    }
  ]
}
